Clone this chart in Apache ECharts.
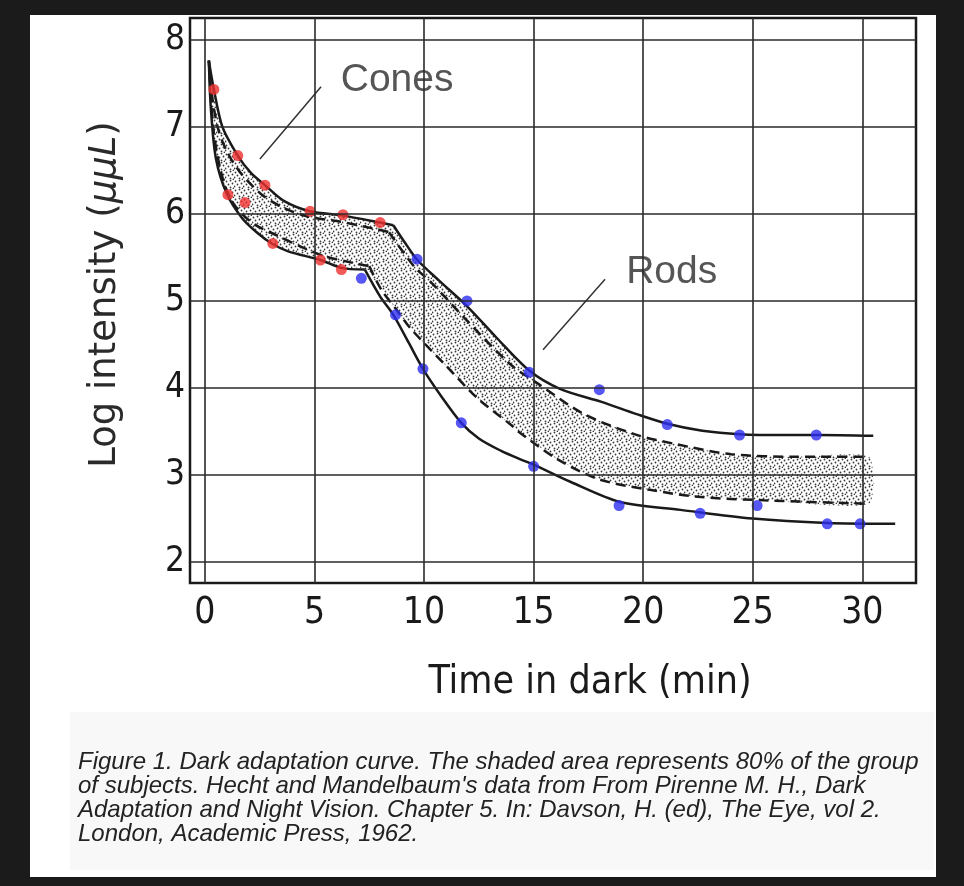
<!DOCTYPE html>
<html>
<head>
<meta charset="utf-8">
<script src="https://cdn.jsdelivr.net/npm/echarts@6/dist/echarts.min.js"></script>
<style>
  html, body { margin: 0; padding: 0; background: #1b1b1b; }
  #chart { width: 964px; height: 886px; }
</style>
</head>
<body>
<div id="chart"></div>
<script>
// axis ticks
var xTicks = [0, 5, 10, 15, 20, 25, 30];
var yTicks = [2, 3, 4, 5, 6, 7, 8];

// solid envelope curves, [minutes, log intensity]
var coneUpper = [[0.18, 7.76], [0.41, 7.43], [0.8, 7.0], [1.5, 6.67], [2.1, 6.47], [2.74, 6.33], [3.6, 6.15], [4.8, 6.03], [6.3, 5.98], [8.0, 5.9], [8.6, 5.87]];
var rodUpper = [[8.6, 5.87], [9.1, 5.68], [9.7, 5.47], [10.7, 5.23], [12.0, 4.93], [13.3, 4.58], [14.8, 4.2], [16.2, 3.99], [18.1, 3.84], [19.7, 3.7], [21.1, 3.59], [22.7, 3.51], [24.4, 3.47], [26.5, 3.46], [28.0, 3.46], [30.5, 3.45]];
var coneLower = [[0.18, 7.76], [0.27, 7.22], [0.5, 6.64], [1.0, 6.23], [1.7, 5.95], [2.4, 5.78], [3.05, 5.66], [3.8, 5.57], [5.27, 5.47], [6.23, 5.38], [7.3, 5.36]];
var rodLower = [[7.3, 5.36], [8.0, 5.05], [8.6, 4.84], [9.3, 4.52], [9.95, 4.22], [10.8, 3.9], [11.7, 3.6], [12.5, 3.42], [13.5, 3.28], [14.4, 3.18], [15.0, 3.12], [16.7, 2.92], [18.95, 2.69], [21.7, 2.6], [25.0, 2.5], [28.4, 2.45], [31.5, 2.44]];

// dashed lines bounding the shaded 80% band
var coneDashUpper = [[0.18, 7.76], [0.3, 7.4], [0.6, 6.98], [1.0, 6.72], [1.6, 6.48], [2.6, 6.22], [3.6, 6.07], [4.7, 5.97], [6.2, 5.91], [7.9, 5.82], [8.4, 5.79]];
var rodDashUpper = [[8.4, 5.79], [9.6, 5.38], [10.3, 5.22], [11.86, 4.8], [13.95, 4.27], [15.2, 4.05], [17.3, 3.7], [19.6, 3.47], [21.4, 3.36], [24.0, 3.24], [27.0, 3.21], [30.3, 3.21]];
var coneDashLower = [[0.18, 7.76], [0.4, 6.95], [0.8, 6.42], [1.3, 6.12], [2.2, 5.89], [3.4, 5.74], [4.5, 5.61], [5.5, 5.51], [6.7, 5.44], [7.5, 5.4]];
var rodDashLower = [[7.5, 5.4], [8.05, 5.13], [8.8, 4.88], [9.4, 4.68], [10.95, 4.27], [12.45, 3.88], [13.95, 3.58], [14.3, 3.5], [16.1, 3.18], [18.0, 2.95], [20.3, 2.83], [22.5, 2.75], [25.5, 2.71], [30.3, 2.67]];

// measured points
var conePoints = [[0.41, 7.43], [1.5, 6.67], [2.74, 6.33], [1.05, 6.22], [1.83, 6.13], [4.8, 6.03], [6.3, 5.99], [8.0, 5.9], [3.1, 5.66], [5.27, 5.47], [6.23, 5.36]];
var rodPoints = [[9.68, 5.48], [7.14, 5.26], [8.7, 4.84], [11.96, 5.0], [9.95, 4.22], [14.8, 4.18], [18.0, 3.98], [11.7, 3.6], [15.0, 3.1], [21.1, 3.58], [24.4, 3.46], [27.9, 3.46], [18.9, 2.65], [22.6, 2.56], [25.2, 2.65], [28.4, 2.44], [29.9, 2.44]];

// labels and their leader lines
var noteNames = ['Cones', 'Rods'];
var notePos = [[8.77, 7.54], [21.3, 5.33]];
var coneLeader = [[5.3, 7.46], [2.51, 6.63]];
var rodLeader = [[18.26, 5.25], [15.43, 4.44]];

var caption = "Figure 1. Dark adaptation curve. The shaded area represents 80% of the group\n" +
  "of subjects. Hecht and Mandelbaum's data from From Pirenne M. H., Dark\n" +
  "Adaptation and Night Vision. Chapter 5. In: Davson, H. (ed), The Eye, vol 2.\n" +
  "London, Academic Press, 1962.";

// stipple pattern for the band
var dots = document.createElement('canvas');
dots.width = 9; dots.height = 9;
var g = dots.getContext('2d');
g.fillStyle = '#ffffff';
g.fillRect(0, 0, 9, 9);
g.fillStyle = '#3a3a3a';
[[1, 1], [5, 0], [7, 3], [3, 4], [0, 6], [5, 7], [8, 8]].forEach(function (p) {
  g.beginPath(); g.arc(p[0] + 0.5, p[1] + 0.5, 0.9, 0, Math.PI * 2); g.fill();
});

// the stipple fills between the solid curves for cones, then narrows onto the dashed band
var bandTop = coneUpper.concat(rodUpper.slice(1).filter(function (p) { return p[0] <= 13.3; }))
  .concat(rodDashUpper.filter(function (p) { return p[0] >= 15.2; }));
var bandBottom = coneLower.concat(rodDashLower.slice(1));

var axisFont = 'DejaVu Sans Condensed, DejaVu Sans, sans-serif';
var ink = '#1a1a1a';

function curve(data, dashed) {
  return {
    type: 'line', data: data, smooth: 0.3, symbol: 'none', z: 3,
    lineStyle: { color: ink, width: 2.5, type: dashed ? [10, 6] : 'solid' }
  };
}

var chart = echarts.init(document.getElementById('chart'));
chart.setOption({
  animation: false,
  backgroundColor: '#1b1b1b',
  graphic: [
    { type: 'rect', z: -10, shape: { x: 30, y: 15, width: 906, height: 862 }, style: { fill: '#ffffff' } },
    { type: 'rect', z: -9, shape: { x: 70, y: 712, width: 864, height: 158 }, style: { fill: '#f8f8f8' } }
  ],
  title: {
    text: caption, left: 73, top: 745,
    textStyle: { fontFamily: 'Liberation Sans, Arial, sans-serif', fontStyle: 'italic', fontWeight: 'normal', fontSize: 24, lineHeight: 24, color: '#222' }
  },
  grid: { left: 190, right: 48, top: 18, bottom: 303, show: true, borderColor: ink, borderWidth: 2.5, backgroundColor: 'transparent' },
  xAxis: {
    type: 'value', min: -0.68, max: 32.45,
    name: 'Time in dark (min)', nameLocation: 'middle', nameGap: 80,
    nameTextStyle: { fontFamily: axisFont, fontSize: 39, color: ink, padding: [0, 0, 0, 74] },
    axisLine: { show: false }, axisTick: { show: false }, splitLine: { show: false },
    axisLabel: { customValues: xTicks, fontFamily: axisFont, fontSize: 37, color: ink, margin: 12 }
  },
  yAxis: {
    type: 'value', min: 1.76, max: 8.25,
    name: 'Log intensity ({i|μμL})', nameLocation: 'middle', nameGap: 66, nameRotate: 90,
    nameTextStyle: {
      fontFamily: 'DejaVu Sans, sans-serif', fontSize: 37, color: '#2a2a2a', padding: [0, 0, 0, 12],
      rich: { i: { fontFamily: 'DejaVu Sans, sans-serif', fontStyle: 'italic', fontSize: 37, color: '#2a2a2a' } }
    },
    axisLine: { show: false }, axisTick: { show: false }, splitLine: { show: false },
    axisLabel: { customValues: yTicks, fontFamily: axisFont, fontSize: 35, color: ink, margin: 5 }
  },
  series: [
    {
      type: 'line', data: [], z: 1,
      markLine: {
        silent: true, symbol: 'none', label: { show: false },
        lineStyle: { color: '#2a2a2a', width: 1.6, type: 'solid' },
        data: xTicks.map(function (v) { return { xAxis: v }; })
          .concat(yTicks.map(function (v) { return { yAxis: v }; }))
      }
    },
    {
      type: 'custom', z: 2, data: [[0, 0]],
      renderItem: function (params, api) {
        var pts = bandTop.map(function (p) { return api.coord(p); })
          .concat(bandBottom.slice().reverse().map(function (p) { return api.coord(p); }));
        return { type: 'polygon', shape: { points: pts, smooth: 0.2 }, style: { fill: { image: dots, repeat: 'repeat' } } };
      }
    },
    curve(coneUpper), curve(rodUpper), curve(coneLower), curve(rodLower),
    curve(coneDashUpper, true), curve(rodDashUpper, true), curve(coneDashLower, true), curve(rodDashLower, true),
    { type: 'line', data: coneLeader, symbol: 'none', z: 3, lineStyle: { color: '#333', width: 1.5 } },
    { type: 'line', data: rodLeader, symbol: 'none', z: 3, lineStyle: { color: '#333', width: 1.5 } },
    {
      type: 'scatter', z: 5, symbolSize: 0,
      data: noteNames.map(function (n, i) { return { name: n, value: notePos[i] }; }),
      label: { show: true, position: 'inside', formatter: '{b}', fontFamily: 'Liberation Sans, Arial, sans-serif', fontSize: 39, color: '#2a2a2a' }
    },
    { type: 'scatter', z: 4, data: conePoints, symbolSize: 11, itemStyle: { color: '#ef3030' } },
    { type: 'scatter', z: 4, data: rodPoints, symbolSize: 11, itemStyle: { color: '#2d2df0' } }
  ]
});
</script>
</body>
</html>
